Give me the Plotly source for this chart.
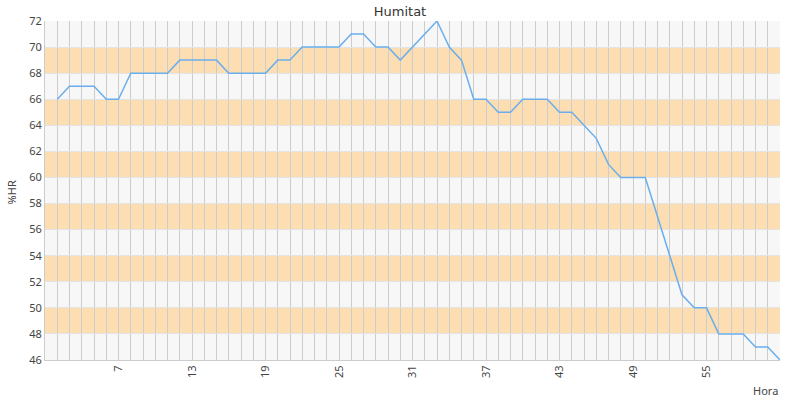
import plotly.graph_objects as go

hours = list(range(2, 62))
humidity = [66, 67, 67, 67, 66, 66, 68, 68, 68, 68,
            69, 69, 69, 69, 68, 68, 68, 68, 69, 69,
            70, 70, 70, 70, 71, 71, 70, 70, 69, 70,
            71, 72, 70, 69, 66, 66, 65, 65, 66, 66,
            66, 65, 65, 64, 63, 61, 60, 60, 60, 57,
            54, 51, 50, 50, 48, 48, 48, 47, 47, 46]
x_ticks = [7, 13, 19, 25, 31, 37, 43, 49, 55]
y_ticks = list(range(46, 73, 2))
band_starts = [48, 52, 56, 60, 64, 68]

FONT = "Noto Sans"

fig = go.Figure()
fig.add_trace(go.Scatter(x=hours, y=humidity, mode="lines",
                         line=dict(color="#6aaeed", width=1.5),
                         hoverinfo="x+y", showlegend=False))

for b in band_starts:
    fig.add_shape(type="rect", xref="paper", yref="y", x0=0, x1=1, y0=b, y1=b + 2,
                  fillcolor="#fcdeb2", line_width=0, layer="below")

fig.update_layout(
    width=800, height=400,
    margin=dict(l=45, r=20, t=21, b=40),
    paper_bgcolor="white", plot_bgcolor="#f7f7f7",
    title=dict(text="Humitat", x=0.5, xanchor="center", y=0.9725, yanchor="middle",
               font=dict(family="DejaVu Sans", size=13, color="#333333")),
    font=dict(family=FONT, size=11, color="#444"),
)
fig.update_xaxes(range=[1, 61], tickvals=x_ticks, tickangle=-90,
                 showgrid=True, gridcolor="#cccccc", gridwidth=1,
                 minor=dict(dtick=1, tick0=1, showgrid=True, gridcolor="#cccccc", gridwidth=1),
                 showline=True, linecolor="#cccccc", zeroline=False,
                 tickfont=dict(family=FONT, size=11, color="#444"), ticks="", automargin=False)
fig.update_yaxes(range=[46, 72], tickvals=y_ticks, showgrid=True, gridcolor="#e4e4e4",
                 showline=True, linecolor="#cccccc", zeroline=False,
                 tickfont=dict(family=FONT, size=11, color="#444"), ticks="", automargin=False)
fig.add_annotation(text="Hora", xref="paper", yref="paper", x=1.0, y=-0.062,
                   xanchor="right", yanchor="top", showarrow=False,
                   font=dict(family=FONT, size=11, color="#444"))
fig.add_annotation(text="%HR", xref="paper", yref="paper", x=-0.046, y=0.495,
                   xanchor="center", yanchor="middle", textangle=-90, showarrow=False,
                   font=dict(family=FONT, size=11, color="#444"))

fig.write_html("out.html", config={"displayModeBar": False},
               post_script="document.body.style.margin='0';")
